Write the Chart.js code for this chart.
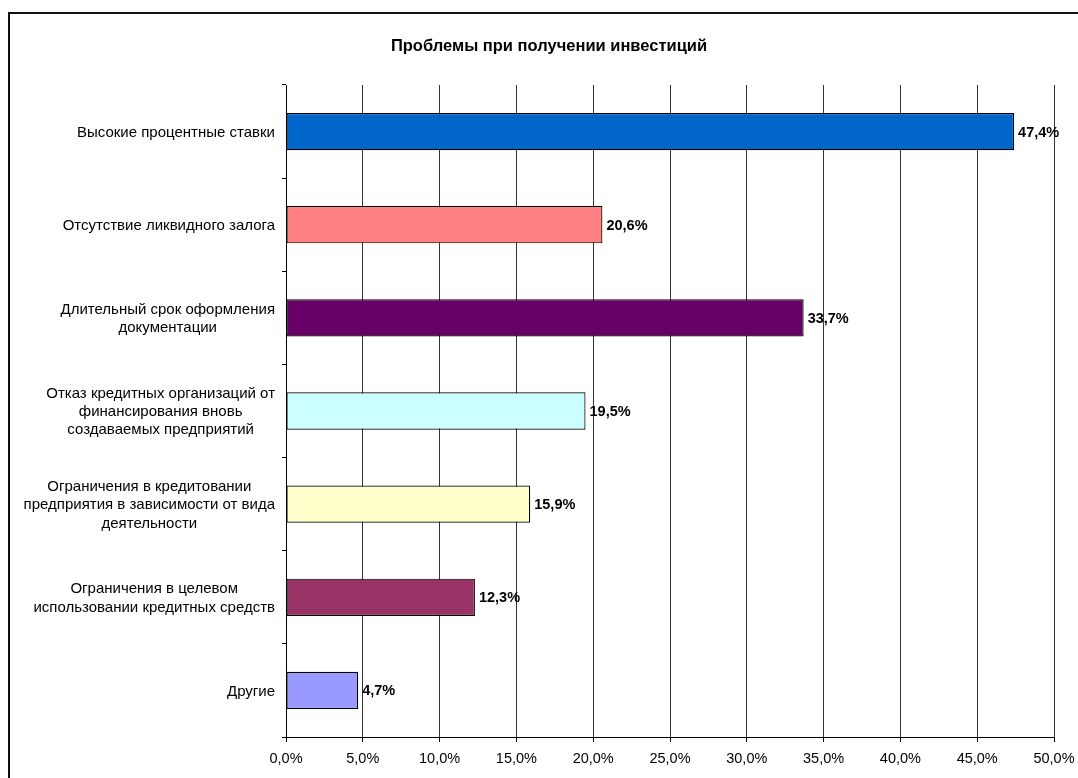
<!DOCTYPE html>
<html>
<head>
<meta charset="utf-8">
<script src="https://cdn.jsdelivr.net/npm/chart.js@4/dist/chart.umd.min.js"></script>
<style>
  html, body { margin: 0; padding: 0; background: #fff; overflow: hidden; width: 1078px; height: 778px; }
  #frame { position: absolute; left: 8px; top: 12px; width: 1200px; height: 900px;
           border-left: 2px solid #111; border-top: 2px solid #111; box-sizing: border-box; }
  #wrap { position: absolute; left: 0; top: 0; width: 1096px; height: 778px; }
</style>
</head>
<body>
<div id="frame"></div>
<div id="wrap"><canvas id="c"></canvas></div>
<script>
const chartTitle = "Проблемы при получении инвестиций";
const categories = [
  ["Высокие процентные ставки"],
  ["Отсутствие ликвидного залога"],
  ["Длительный срок оформления", "документации"],
  ["Отказ кредитных организаций от", "финансирования вновь", "создаваемых предприятий"],
  ["Ограничения в кредитовании", "предприятия в зависимости от вида", "деятельности"],
  ["Ограничения в целевом", "использовании кредитных средств"],
  ["Другие"]
];
const values = [47.4, 20.6, 33.7, 19.5, 15.9, 12.3, 4.7];
const barColors = ["#0066CC", "#FF8080", "#660066", "#CCFFFF", "#FFFFCC", "#993366", "#9999FF"];
const axisMin = 0, axisMax = 50, axisStep = 5;

const FONT = "'Liberation Sans', Arial, sans-serif";
const fmt = v => v.toFixed(1).replace('.', ',') + '%';

const titlePlugin = {
  id: 'customTitle',
  afterDraw(chart) {
    const ctx = chart.ctx;
    ctx.save();
    ctx.font = "bold 16.5px " + FONT;
    ctx.fillStyle = "#000";
    ctx.textAlign = "center";
    ctx.textBaseline = "middle";
    ctx.fillText(chartTitle, 549, 46);
    ctx.restore();
  }
};

const catLabelsPlugin = {
  id: 'catLabels',
  afterDraw(chart) {
    const ctx = chart.ctx, ys = chart.scales.y;
    ctx.save();
    ctx.font = "15px " + FONT;
    ctx.fillStyle = "#000";
    ctx.textBaseline = "middle";
    ctx.textAlign = "center";
    const lh = 18.3;
    const rightEdge = ys.right - 11;
    categories.forEach((lines, i) => {
      const yc = ys.getPixelForValue(i);
      const maxW = Math.max(...lines.map(l => ctx.measureText(l).width));
      const xc = rightEdge - maxW / 2;
      const y0 = yc - (lines.length - 1) * lh / 2 + 1;
      lines.forEach((l, k) => ctx.fillText(l, xc, y0 + k * lh));
    });
    ctx.restore();
  }
};

const valueLabelsPlugin = {
  id: 'valueLabels',
  afterDatasetsDraw(chart) {
    const ctx = chart.ctx;
    const meta = chart.getDatasetMeta(0);
    ctx.save();
    ctx.font = "bold 14.5px " + FONT;
    ctx.fillStyle = "#000";
    ctx.textBaseline = "middle";
    ctx.textAlign = "left";
    meta.data.forEach((bar, i) => {
      ctx.fillText(fmt(values[i]), bar.x + 4, bar.y + 1);
    });
    ctx.restore();
  }
};

new Chart(document.getElementById('c'), {
  type: 'bar',
  data: {
    labels: categories.map(c => c.join(' ')),
    datasets: [{
      data: values,
      backgroundColor: barColors,
      borderColor: "#000",
      borderWidth: 1.2,
      borderSkipped: false,
      barPercentage: 0.4,
      categoryPercentage: 1.0
    }]
  },
  options: {
    indexAxis: 'y',
    responsive: true,
    maintainAspectRatio: false,
    animation: false,
    layout: { padding: { left: 0, right: 42, top: 85, bottom: 0 } },
    plugins: {
      legend: { display: false },
      tooltip: { enabled: false },
      title: { display: false }
    },
    scales: {
      x: {
        type: 'linear',
        min: axisMin, max: axisMax,
        ticks: {
          stepSize: axisStep,
          color: "#000",
          font: { family: FONT, size: 14.5 },
          padding: 8,
          callback: v => fmt(v)
        },
        grid: { color: "#333", lineWidth: 1, drawOnChartArea: true, drawTicks: true, tickLength: 5, tickColor: "#000" },
        border: { display: true, color: "#000", width: 1 },
        afterFit: s => { s.height = 41; }
      },
      y: {
        ticks: { display: false },
        grid: { offset: true, drawOnChartArea: false, drawTicks: true, tickLength: 4, color: "#000" },
        border: { display: true, color: "#000", width: 1 },
        afterFit: s => { s.width = 286; }
      }
    }
  },
  plugins: [catLabelsPlugin, valueLabelsPlugin, titlePlugin]
});
</script>
</body>
</html>
